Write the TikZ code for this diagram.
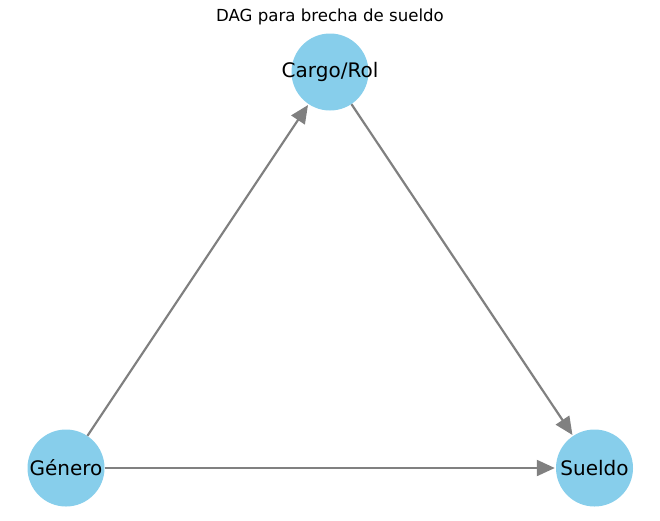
\documentclass[tikz,border=0pt]{standalone}
\usepackage{fontspec}
\setmainfont{DejaVu Sans}
\usetikzlibrary{arrows.meta}
\definecolor{nodeblue}{HTML}{87CEEB}
\definecolor{edgegray}{HTML}{808080}
\tikzset{
  vertex/.style={circle,fill=nodeblue,draw=none,minimum size=77pt,inner sep=0pt},
  vlabel/.style={font=\fontsize{20}{24}\selectfont,inner sep=0pt},
  edge/.style={draw=edgegray,line width=2.2pt,-{Triangle[length=18pt,width=16pt]},shorten >=1pt}
}
\begin{document}
\begin{tikzpicture}[x=1pt,y=-1pt]
\useasboundingbox (0,0) rectangle (660,520);
\node[font=\fontsize{16.6}{20}\selectfont] (title) at (330,17) {DAG para brecha de sueldo};
\node[vertex] (cargo) at (330,72) {};
\node[vertex] (genero) at (66,468) {};
\node[vertex] (sueldo) at (594.5,468) {};
\draw[edge] (genero) -- (cargo);
\draw[edge] (cargo) -- (sueldo);
\draw[edge] (genero) -- (sueldo);
\node[vlabel] (lc) at (cargo.center) {Cargo/Rol};
\node[vlabel] (lg) at (genero.center) {Género};
\node[vlabel] (ls) at (sueldo.center) {Sueldo};
\end{tikzpicture}
\end{document}
